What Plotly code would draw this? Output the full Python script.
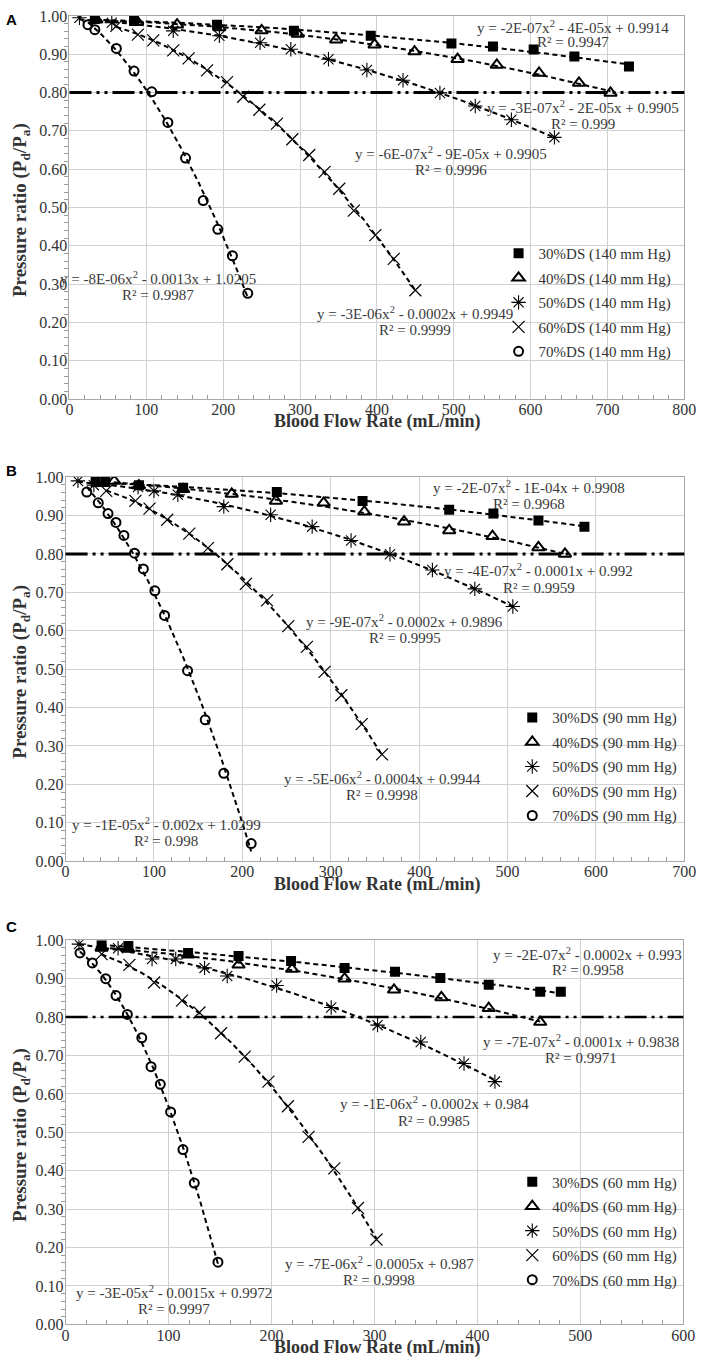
import numpy as np
import plotly.graph_objects as go

W, H = 709, 1365

# ---------------- data ----------------
series_names = ["30%DS", "40%DS", "50%DS", "60%DS", "70%DS"]
pressures = ["140 mm Hg", "90 mm Hg", "60 mm Hg"]
panel_letters = ["A", "B", "C"]
x_max = [800, 700, 600]

# Panel A (140 mm Hg)
a30_x = [33, 84, 192, 292, 392, 497, 551, 604, 657, 728]
a30_y = [0.992, 0.987, 0.977, 0.961, 0.948, 0.928, 0.920, 0.912, 0.894, 0.868]
a40_x = [35, 88, 140, 195, 250, 297, 347, 397, 449, 505, 556, 611, 663, 704]
a40_y = [0.990, 0.985, 0.977, 0.970, 0.962, 0.953, 0.938, 0.925, 0.907, 0.887, 0.872, 0.851, 0.825, 0.799]
a50_x = [13, 55, 135, 195, 248, 288, 337, 387, 434, 482, 528, 575, 631]
a50_y = [0.995, 0.982, 0.961, 0.948, 0.930, 0.913, 0.887, 0.859, 0.832, 0.799, 0.765, 0.729, 0.683]
a60_x = [61, 89, 109, 135, 155, 179, 205, 226, 247, 270, 290, 312, 332, 351, 370, 398, 422, 450]
a60_y = [0.974, 0.951, 0.936, 0.910, 0.889, 0.858, 0.827, 0.789, 0.755, 0.719, 0.678, 0.637, 0.593, 0.549, 0.492, 0.428, 0.366, 0.284]
a70_x = [24, 33, 61, 84, 107, 128, 151, 174, 193, 212, 232]
a70_y = [0.977, 0.964, 0.915, 0.856, 0.802, 0.722, 0.629, 0.518, 0.443, 0.374, 0.276]

# Panel B (90 mm Hg)
b30_x = [34, 45, 83, 133, 239, 336, 434, 484, 535, 587]
b30_y = [0.987, 0.987, 0.979, 0.972, 0.961, 0.938, 0.915, 0.905, 0.887, 0.871]
b40_x = [55, 83, 133, 188, 238, 292, 338, 383, 434, 483, 535, 565]
b40_y = [0.990, 0.978, 0.968, 0.956, 0.938, 0.933, 0.910, 0.884, 0.861, 0.846, 0.817, 0.800]
b50_x = [14, 32, 82, 100, 127, 179, 232, 279, 323, 367, 415, 463, 506]
b50_y = [0.990, 0.979, 0.974, 0.964, 0.954, 0.923, 0.902, 0.871, 0.835, 0.799, 0.758, 0.709, 0.663]
b60_x = [46, 79, 95, 115, 140, 161, 183, 204, 228, 252, 273, 293, 312, 335, 358]
b60_y = [0.964, 0.938, 0.918, 0.889, 0.853, 0.815, 0.773, 0.722, 0.679, 0.612, 0.558, 0.493, 0.432, 0.357, 0.278]
b70_x = [24, 37, 48, 57, 66, 78, 88, 101, 112, 138, 158, 179, 210]
b70_y = [0.961, 0.933, 0.905, 0.882, 0.848, 0.802, 0.761, 0.704, 0.640, 0.496, 0.368, 0.229, 0.046]

# Panel C (60 mm Hg)
c30_x = [35, 61, 119, 168, 219, 271, 320, 364, 411, 461, 481]
c30_y = [0.987, 0.985, 0.967, 0.959, 0.946, 0.928, 0.918, 0.902, 0.884, 0.866, 0.866]
c40_x = [35, 61, 119, 168, 220, 271, 319, 365, 411, 461]
c40_y = [0.980, 0.977, 0.962, 0.936, 0.925, 0.900, 0.871, 0.851, 0.823, 0.787]
c50_x = [13, 51, 84, 107, 135, 157, 205, 258, 303, 345, 387, 417]
c50_y = [0.990, 0.979, 0.951, 0.951, 0.928, 0.907, 0.882, 0.825, 0.779, 0.735, 0.679, 0.632]
c60_x = [35, 62, 86, 113, 130, 151, 174, 197, 216, 236, 261, 284, 302]
c60_y = [0.964, 0.936, 0.890, 0.843, 0.812, 0.758, 0.697, 0.632, 0.568, 0.488, 0.406, 0.303, 0.221]
c70_x = [14, 26, 39, 49, 60, 74, 83, 92, 102, 114, 125, 148]
c70_y = [0.967, 0.941, 0.900, 0.856, 0.807, 0.746, 0.671, 0.625, 0.553, 0.455, 0.368, 0.162]

# trendline equation labels (as printed)
eq_A = ["y = -2E-07x<sup>2</sup> - 4E-05x + 0.9914", "y = -3E-07x<sup>2</sup> - 2E-05x + 0.9905",
        "y = -6E-07x<sup>2</sup> - 9E-05x + 0.9905", "y = -3E-06x<sup>2</sup> - 0.0002x + 0.9949",
        "y = -8E-06x<sup>2</sup> - 0.0013x + 1.0205"]
r2_A = ["R² = 0.9947", "R² = 0.999", "R² = 0.9996", "R² = 0.9999", "R² = 0.9987"]
eq_B = ["y = -2E-07x<sup>2</sup> - 1E-04x + 0.9908", "y = -4E-07x<sup>2</sup> - 0.0001x + 0.992",
        "y = -9E-07x<sup>2</sup> - 0.0002x + 0.9896", "y = -5E-06x<sup>2</sup> - 0.0004x + 0.9944",
        "y = -1E-05x<sup>2</sup> - 0.002x + 1.0299"]
r2_B = ["R² = 0.9968", "R² = 0.9959", "R² = 0.9995", "R² = 0.9998", "R² = 0.998"]
eq_C = ["y = -2E-07x<sup>2</sup> - 0.0002x + 0.993", "y = -7E-07x<sup>2</sup> - 0.0001x + 0.9838",
        "y = -1E-06x<sup>2</sup> - 0.0002x + 0.984", "y = -7E-06x<sup>2</sup> - 0.0005x + 0.987",
        "y = -3E-05x<sup>2</sup> - 0.0015x + 0.9972"]
r2_C = ["R² = 0.9958", "R² = 0.9971", "R² = 0.9985", "R² = 0.9998", "R² = 0.9997"]

panels = [
    [(a30_x, a30_y), (a40_x, a40_y), (a50_x, a50_y), (a60_x, a60_y), (a70_x, a70_y)],
    [(b30_x, b30_y), (b40_x, b40_y), (b50_x, b50_y), (b60_x, b60_y), (b70_x, b70_y)],
    [(c30_x, c30_y), (c40_x, c40_y), (c50_x, c50_y), (c60_x, c60_y), (c70_x, c70_y)],
]
equations = [eq_A, eq_B, eq_C]
r2s = [r2_A, r2_B, r2_C]

# ---------------- layout (pixel geometry) ----------------
SERIF = "Liberation Serif"
SANS = "Liberation Sans"

def px(xp, yp):
    return xp / W, 1 - yp / H

plot_px = [  # left, right, top, bottom
    (67, 696, 8, 396),
    (63, 696, 475, 864),
    (63, 695, 944, 1333),
]
# equation label centres (px): (x, y_eq, y_r2)
eq_pos = [
    [(582, 19, 34), (592, 100, 117), (457, 147, 164), (420, 309, 326), (158, 273, 291)],
    [(537, 485, 502), (547, 569, 587), (410, 621, 638), (387, 780, 797), (166, 826, 843)],
    [(597, 958, 974), (590, 1046, 1063), (440, 1109, 1127), (384, 1271, 1288), (174, 1300, 1317)],
]
legend_px = [(506, 232), (520, 702), (520, 1172)]
letter_px = [(8, 12), (8, 468), (8, 930)]
xtitle_py = [419, 888, 1356]

markers = [
    dict(symbol="square", size=10, color="black"),
    dict(symbol="triangle-up-open", size=11, color="black", line=dict(width=2, color="black")),
    dict(symbol="asterisk-open", size=12, color="black", line=dict(width=1.1, color="black")),
    dict(symbol="x-thin-open", size=12, color="black", line=dict(width=1.2, color="black")),
    dict(symbol="circle-open", size=9, color="black", line=dict(width=2, color="black")),
]

fig = go.Figure()
annotations = []
shapes = []
layout_axes = {}

for p in range(3):
    sfx = "" if p == 0 else str(p + 1)
    xa, ya = "x" + sfx, "y" + sfx
    leg = "legend" if p == 0 else "legend" + str(p + 1)
    for s in range(5):
        xs, ys = panels[p][s]
        fig.add_trace(go.Scatter(
            x=xs, y=ys, mode="markers", marker=markers[s],
            name=f"{series_names[s]} ({pressures[p]})",
            xaxis=xa, yaxis=ya, legend=leg, legendgroup=f"p{p}s{s}",
        ))
    for s in range(5):
        xs, ys = panels[p][s]
        coef = np.polyfit(xs, ys, 2)
        xf = np.linspace(min(xs), max(xs), 120)
        yf = np.polyval(coef, xf)
        fig.add_trace(go.Scatter(
            x=xf, y=yf, mode="lines", line=dict(color="black", width=2, dash="5px,3.5px"),
            showlegend=False, hoverinfo="skip", xaxis=xa, yaxis=ya,
        ))

    l, r, t, b = plot_px[p]
    axis_common = dict(
        showline=True, linecolor="#a8a8a8", linewidth=1, mirror=True,
        showgrid=True, gridcolor="#d0d0d0", gridwidth=1, zeroline=False,
        tickfont=dict(family=SERIF, size=16, color="#333333"),
        ticks="",
    )
    layout_axes["xaxis" + sfx] = dict(
        axis_common, domain=[l / W, r / W], range=[0, x_max[p]], dtick=100,
        anchor=ya, ticklabelstandoff=-4,
        minor=dict(dtick=20, ticks="inside", ticklen=4, tickcolor="#9a9a9a", showgrid=False),
    )
    layout_axes["yaxis" + sfx] = dict(
        axis_common, domain=[1 - b / H, 1 - t / H], range=[0, 1], dtick=0.1, tickformat=".2f",
        anchor=xa, ticklabelstandoff=-2,
        minor=dict(dtick=0.02, ticks="outside", ticklen=4, tickcolor="#9a9a9a", showgrid=False),
    )

    # 0.80 reference line
    shapes.append(dict(
        type="line", xref=xa + " domain", x0=0, x1=1, yref=ya, y0=0.8, y1=0.8,
        line=dict(color="black", width=3 if p < 2 else 2.5, dash="22px,5px,3px,5px,3px,5px"),
    ))

    # equation labels
    for s in range(5):
        cx, ye, yr = eq_pos[p][s]
        ax_, ay_ = px(cx, ye)
        annotations.append(dict(x=ax_, y=ay_, xref="paper", yref="paper", text=equations[p][s],
                                showarrow=False, xanchor="center", yanchor="middle",
                                font=dict(family=SERIF, size=15, color="#3a3a3a")))
        ax_, ay_ = px(cx, yr)
        annotations.append(dict(x=ax_, y=ay_, xref="paper", yref="paper", text=r2s[p][s],
                                showarrow=False, xanchor="center", yanchor="middle",
                                font=dict(family=SERIF, size=15, color="#3a3a3a")))

    # axis titles
    ax_, ay_ = px(382, xtitle_py[p])
    annotations.append(dict(x=ax_, y=ay_, xref="paper", yref="paper",
                            text="<b>Blood Flow Rate (mL/min)</b>", showarrow=False,
                            xanchor="center", yanchor="middle",
                            font=dict(family=SERIF, size=18, color="#333333")))
    ax_, ay_ = px(18, (t + b) / 2 + 3)
    annotations.append(dict(x=ax_, y=ay_, xref="paper", yref="paper",
                            text="<b>Pressure ratio (P<sub>d</sub>/P<sub>a</sub>)</b>", showarrow=False,
                            textangle=-90, xanchor="center", yanchor="middle",
                            font=dict(family=SERIF, size=19, color="#333333")))
    # panel letter
    ax_, ay_ = px(*letter_px[p])
    annotations.append(dict(x=ax_, y=ay_, xref="paper", yref="paper", text=f"<b>{panel_letters[p]}</b>",
                            showarrow=False, xanchor="center", yanchor="middle",
                            font=dict(family=SANS, size=15, color="black")))

    lx, ly = px(*legend_px[p])
    layout_axes[leg] = dict(
        x=lx, y=ly, xanchor="left", yanchor="top", bgcolor="rgba(0,0,0,0)",
        font=dict(family=SERIF, size=15, color="#333333"), tracegroupgap=2,
    )

fig.update_layout(
    width=W, height=H, margin=dict(l=0, r=0, t=0, b=0),
    paper_bgcolor="white", plot_bgcolor="white",
    annotations=annotations, shapes=shapes, showlegend=True,
    **layout_axes,
)

fig.write_html("out.html", config={"displayModeBar": False},
               post_script="document.body.style.margin='0';")
